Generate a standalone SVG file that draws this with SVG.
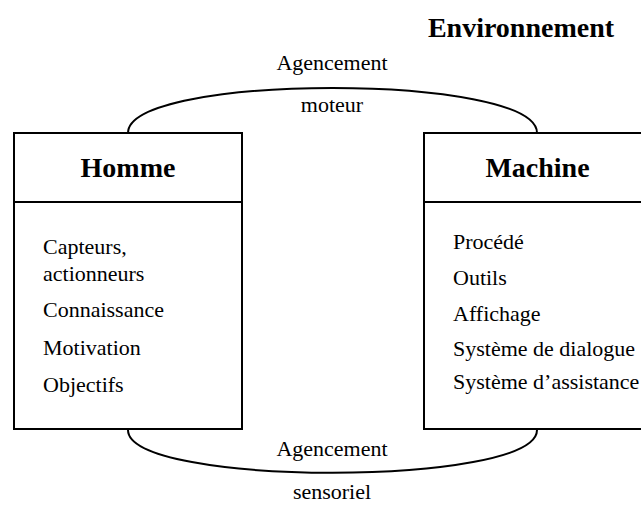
<svg xmlns="http://www.w3.org/2000/svg" width="641" height="509" viewBox="0 0 641 509">
<style>
.box{fill:#fff;stroke:#000;stroke-width:2}
.ln{fill:none;stroke:#000;stroke-width:2}
.t{font-family:"Liberation Serif","Times New Roman",serif;font-size:22px;fill:#000}
.h{font-family:"Liberation Serif","Times New Roman",serif;font-size:28px;font-weight:bold;fill:#000}
.m{text-anchor:middle}
</style>
<rect width="641" height="509" fill="#fff"/>
<g id="connectors">
<path class="ln" d="M128,133 C128,73 537,73 537,133"/>
<path class="ln" d="M128,430 C128,487 537,487 537,430"/>
</g>
<g id="environnement">
<text class="h m" x="521" y="37">Environnement</text>
</g>
<g id="agencement-moteur">
<text class="t m" x="332" y="70">Agencement</text>
<text class="t m" x="332" y="112">moteur</text>
</g>
<g id="agencement-sensoriel">
<text class="t m" x="332" y="456">Agencement</text>
<text class="t m" x="332" y="499">sensoriel</text>
</g>
<g id="homme">
<rect class="box" x="14" y="133" width="228" height="296"/>
<line class="ln" x1="14" y1="202" x2="242" y2="202"/>
<text class="h m" x="128" y="177">Homme</text>
<text class="t" x="43" y="254">Capteurs,</text>
<text class="t" x="43" y="281">actionneurs</text>
<text class="t" x="43" y="317">Connaissance</text>
<text class="t" x="43" y="355">Motivation</text>
<text class="t" x="43" y="392">Objectifs</text>
</g>
<g id="machine">
<rect class="box" x="424" y="133" width="228" height="296"/>
<line class="ln" x1="424" y1="202" x2="652" y2="202"/>
<text class="h m" x="537.5" y="177">Machine</text>
<text class="t" x="453" y="249">Procédé</text>
<text class="t" x="453" y="285">Outils</text>
<text class="t" x="453" y="321">Affichage</text>
<text class="t" x="453" y="356">Système de dialogue</text>
<text class="t" x="453" y="389">Système d’assistance</text>
</g>
</svg>
